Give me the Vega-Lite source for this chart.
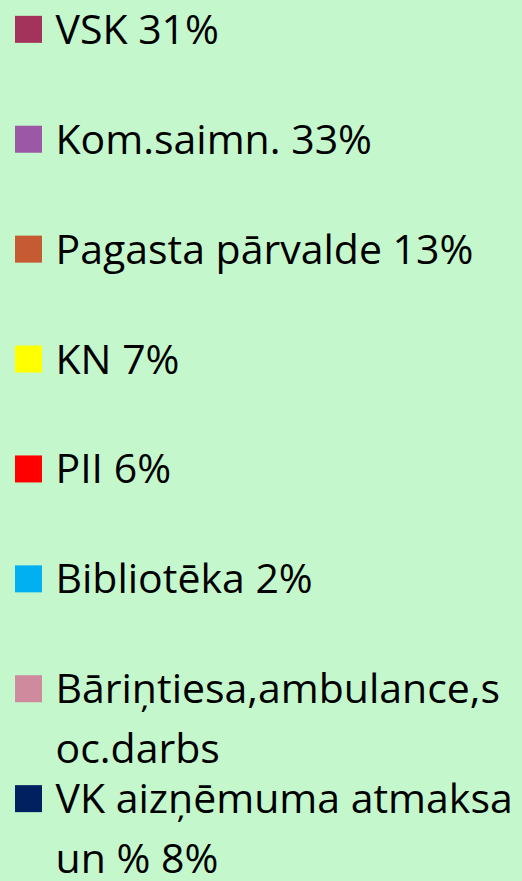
{
  "$schema": "https://vega.github.io/schema/vega-lite/v6.json",
  "width": 522,
  "height": 881,
  "autosize": {"type": "fit", "contains": "padding"},
  "padding": 0,
  "background": "#C4F7CC",
  "config": {"view": {"stroke": null}},
  "data": {
    "values": [
      {"order": 0, "category": "VSK", "label": "VSK 31%"},
      {"order": 1, "category": "Kom.saimn.", "label": "Kom.saimn. 33%"},
      {"order": 2, "category": "Pagasta pārvalde", "label": "Pagasta pārvalde 13%"},
      {"order": 3, "category": "KN", "label": "KN 7%"},
      {"order": 4, "category": "PII", "label": "PII 6%"},
      {"order": 5, "category": "Bibliotēka", "label": "Bibliotēka 2%"},
      {"order": 6, "category": "Bāriņtiesa,ambulance,soc.darbs", "label": "Bāriņtiesa,ambulance,s\noc.darbs"},
      {"order": 7, "category": "VK aizņēmuma atmaksa un %", "label": "VK aizņēmuma atmaksa\nun % 8%"}
    ]
  },
  "encoding": {
    "y": {
      "field": "order",
      "type": "quantitative",
      "scale": {"domain": [-0.267, 7.713], "reverse": true, "nice": false, "zero": false},
      "axis": null
    },
    "x": {
      "datum": 28.5,
      "type": "quantitative",
      "scale": {"domain": [0, 522], "nice": false, "zero": false},
      "axis": null
    }
  },
  "layer": [
    {
      "mark": {"type": "point", "shape": "square", "filled": true, "size": 729, "opacity": 1},
      "encoding": {
        "color": {
          "field": "category",
          "type": "nominal",
          "scale": {
            "domain": ["VSK", "Kom.saimn.", "Pagasta pārvalde", "KN", "PII", "Bibliotēka", "Bāriņtiesa,ambulance,soc.darbs", "VK aizņēmuma atmaksa un %"],
            "range": ["#A3335A", "#9B59A5", "#C55A33", "#FFFF00", "#FF0000", "#00B0F0", "#D08A9E", "#002060"]
          },
          "legend": null
        }
      }
    },
    {
      "mark": {
        "type": "text",
        "align": "left",
        "baseline": "alphabetic",
        "dx": 27,
        "dy": 14.5,
        "font": "Open Sans",
        "fontSize": 41,
        "lineHeight": 60,
        "lineBreak": "\n",
        "color": "#000000"
      },
      "encoding": {"text": {"field": "label"}}
    }
  ]
}
